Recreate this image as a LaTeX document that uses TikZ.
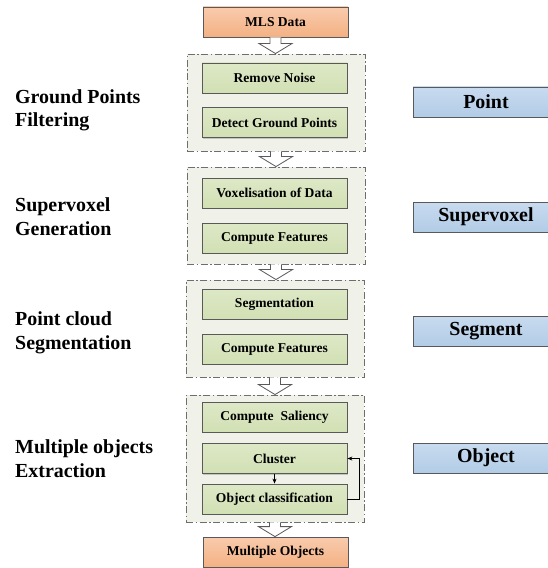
\documentclass[tikz,border=0pt]{standalone}
\usepackage{fontspec}
\setmainfont{Liberation Serif}
\usetikzlibrary{shadows,calc,arrows.meta}
\definecolor{orangeT}{HTML}{F8CBAD}
\definecolor{orangeB}{HTML}{F4B183}
\definecolor{greenT}{HTML}{DDE8C6}
\definecolor{greenB}{HTML}{D2E0B4}
\definecolor{grpfill}{HTML}{F0F2E9}
\definecolor{blueT}{HTML}{C8DBEF}
\definecolor{blueB}{HTML}{B2CCE6}
\definecolor{edge}{HTML}{595959}
\definecolor{grpedge}{HTML}{6E6E6E}
\tikzset{
 box/.style={draw=edge, line width=0.8pt, minimum width=145bp, minimum height=30bp, inner sep=0pt,
   font=\fontsize{13.6}{16}\selectfont\bfseries,
   drop shadow={shadow xshift=1.2pt, shadow yshift=-1.2pt, fill=black!40, opacity=0.5}},
 startbox/.style={box, top color=orangeT, bottom color=orangeB},
 stepbox/.style={box, top color=greenT, bottom color=greenB},
 group/.style={draw=grpedge, dash pattern=on 7bp off 2.5bp on 1.5bp off 2.5bp, line width=0.9pt, fill=grpfill, inner sep=0pt},
 levelbox/.style={box, minimum width=146bp, font=\fontsize{20}{24}\selectfont\bfseries, top color=blueT, bottom color=blueB},
 stage/.style={align=left, anchor=base west, inner sep=0pt, font=\fontsize{20}{24}\selectfont\bfseries},
 barrow/.style={draw=edge, fill=white, line width=0.8pt, line join=miter},
 link/.style={-{Stealth[length=5bp,width=4bp]}, line width=0.7pt, black}
}
\newcommand{\blockarr}[2]{%
 \draw[barrow] let \p1=(#1.south), \p2=(#2.north) in
 (\x1-5.5bp,\y1) -- (\x1-5.5bp,\y2+10bp) -- (\x1-16.5bp,\y2+10bp) -- (\x1,\y2)
 -- (\x1+16.5bp,\y2+10bp) -- (\x1+5.5bp,\y2+10bp) -- (\x1+5.5bp,\y1);}
\begin{document}
\begin{tikzpicture}[x=1bp,y=-1bp]
\clip (0,0) rectangle (548,568);
\fill[white] (0,0) rectangle (548,568);
% groups
\node[group, minimum width=178bp, minimum height=97bp] (g1) at (276,102.5) {};
\node[group, minimum width=178bp, minimum height=97bp] (g2) at (276,215.5) {};
\node[group, minimum width=178bp, minimum height=97bp] (g3) at (275,328.5) {};
\node[group, minimum width=178bp, minimum height=127bp] (g4) at (275,458.5) {};
% start / end
\node[startbox] (mls) at (275.5,22) {MLS Data};
\node[startbox] (mo) at (275.5,552) {Multiple Objects};
% steps
\node[stepbox] (rn) at (274.5,78) {Remove Noise};
\node[stepbox] (dg) at (274.5,122.5) {Detect Ground Points};
\node[stepbox] (vx) at (274.5,193) {Voxelisation of Data};
\node[stepbox] (cf1) at (274.5,238) {Compute Features};
\node[stepbox] (sg) at (274.5,304) {Segmentation};
\node[stepbox] (cf2) at (274.5,349) {Compute Features};
\node[stepbox] (cs) at (274.5,417) {Compute\ \ Saliency};
\node[stepbox] (cl) at (274.5,458.5) {Cluster};
\node[stepbox] (oc) at (274.5,499) {Object classification};
% block arrows
\blockarr{mls}{g1}
\blockarr{g1}{g2}
\blockarr{g2}{g3}
\blockarr{g3}{g4}
\blockarr{g4}{mo}
% links
\draw[link] (cl) -- (oc);
\draw[link] (oc.east) -- ++(12,0) |- (cl.east);
% levels
\node[levelbox] (lp) at (486,102) {Point};
\node[levelbox] (ls) at (486,217) {Supervoxel};
\node[levelbox] (lg) at (486,331) {Segment};
\node[levelbox] (lo) at (486,458) {Object};
% stage labels (anchor = baseline of last line)
\node[stage] (s1) at (15,127) {Ground Points\\Filtering};
\node[stage] (s2) at (15,235) {Supervoxel\\Generation};
\node[stage] (s3) at (15,349) {Point cloud\\Segmentation};
\node[stage] (s4) at (15,477) {Multiple objects\\Extraction};
\end{tikzpicture}
\end{document}
